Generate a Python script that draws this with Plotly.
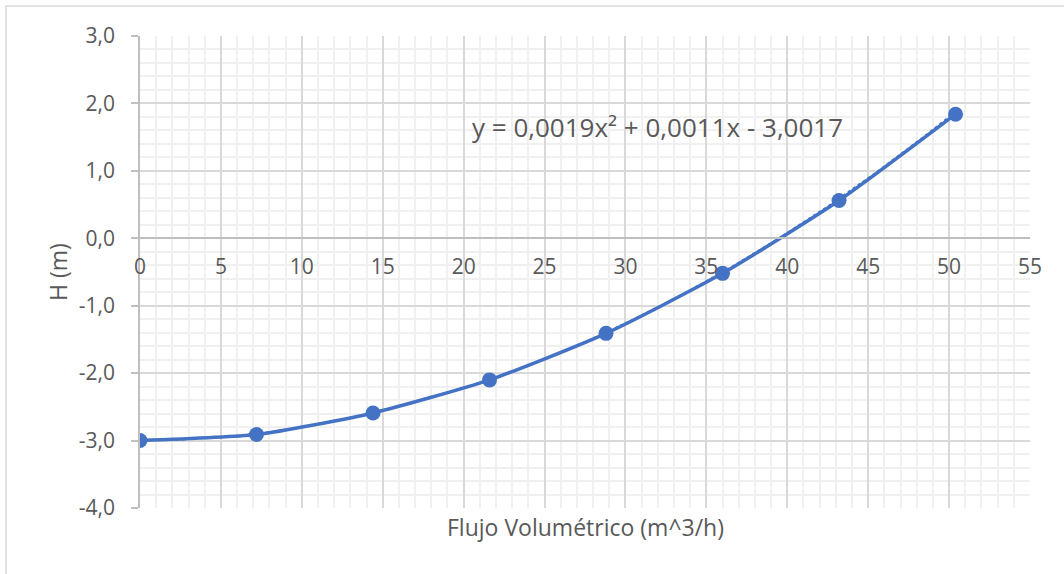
import numpy as np
import plotly.graph_objects as go

# Measured pump head vs. volumetric flow
flow = [0.0, 7.2, 14.4, 21.6, 28.8, 36.0, 43.2, 50.4]
head = [-3.00, -2.91, -2.59, -2.10, -1.41, -0.52, 0.56, 1.84]

# Quadratic trendline coefficients (a*x^2 + b*x + c)
coef_a, coef_b, coef_c = 0.0019, 0.0011, -3.0017

y_ticks = [3, 2, 1, 0, -1, -2, -3, -4]
y_tick_text = ["3,0", "2,0", "1,0", "0,0", "-1,0", "-2,0", "-3,0", "-4,0"]
x_ticks = [0, 5, 10, 15, 20, 25, 30, 35, 40, 45, 50, 55]

BLUE = "#4472C4"
TEXT = "#595959"
FONT = "Open Sans"

fig = go.Figure()

# dotted polynomial trendline
tx = np.linspace(min(flow), max(flow), 200)
ty = coef_a * tx**2 + coef_b * tx + coef_c
fig.add_trace(go.Scatter(x=tx, y=ty, mode="lines",
                         line=dict(color=BLUE, width=1.5, dash="dot"),
                         hoverinfo="skip", showlegend=False))

# smoothed series with markers
fig.add_trace(go.Scatter(x=flow, y=head, mode="lines+markers",
                         line=dict(color=BLUE, width=3.5, shape="spline", smoothing=0.6),
                         marker=dict(color=BLUE, size=15),
                         showlegend=False))

y_min, y_max = -4, 3
fig.update_layout(
    width=1064, height=574,
    margin=dict(l=140, r=34, t=36, b=66),
    paper_bgcolor="white", plot_bgcolor="white",
    font=dict(family=FONT, color=TEXT, size=21),
    xaxis=dict(
        range=[0, 55], tickvals=x_ticks, ticks="",
        anchor="free", position=(0 - y_min) / (y_max - y_min),
        showline=True, linecolor="#bfbfbf", linewidth=1.5,
        showgrid=True, gridcolor="#d9d9d9", gridwidth=1.5,
        minor=dict(dtick=1, showgrid=True, gridcolor="#f0f0f0", gridwidth=1.5),
        zeroline=False, ticklabelstandoff=10,
        tickfont=dict(size=21, color=TEXT),
    ),
    yaxis=dict(
        range=[y_min, y_max], tickvals=y_ticks, ticktext=y_tick_text,
        ticks="outside", ticklen=7, tickcolor="#bfbfbf", tickwidth=1.5,
        showline=True, linecolor="#bfbfbf", linewidth=1.5,
        showgrid=True, gridcolor="#d9d9d9", gridwidth=1.5,
        minor=dict(dtick=0.2, showgrid=True, gridcolor="#f0f0f0", gridwidth=1.5),
        zeroline=False, ticklabelstandoff=12,
        tickfont=dict(size=21, color=TEXT),
    ),
    shapes=[dict(type="rect", xref="paper", yref="paper",
                 x0=-0.1506, x1=1.2, y0=-0.3, y1=1.0638,
                 line=dict(color="#d9d9d9", width=1.5), fillcolor="rgba(0,0,0,0)",
                 layer="below")],
    annotations=[
        dict(text="y = 0,0019x² + 0,0011x - 3,0017",
             x=20.4, y=1.65, xref="x", yref="y", showarrow=False,
             xanchor="left", yanchor="middle",
             font=dict(size=26, color=TEXT, family=FONT)),
        dict(text="Flujo Volumétrico (m^3/h)", x=0.5, y=-0.04,
             xref="paper", yref="paper", showarrow=False,
             xanchor="center", yanchor="middle",
             font=dict(size=23, color=TEXT, family=FONT)),
        dict(text="H (m)", x=-0.0921, y=0.5, textangle=-90,
             xref="paper", yref="paper", showarrow=False,
             xanchor="center", yanchor="middle",
             font=dict(size=23, color=TEXT, family=FONT)),
    ],
)

fig.write_html("out.html")
